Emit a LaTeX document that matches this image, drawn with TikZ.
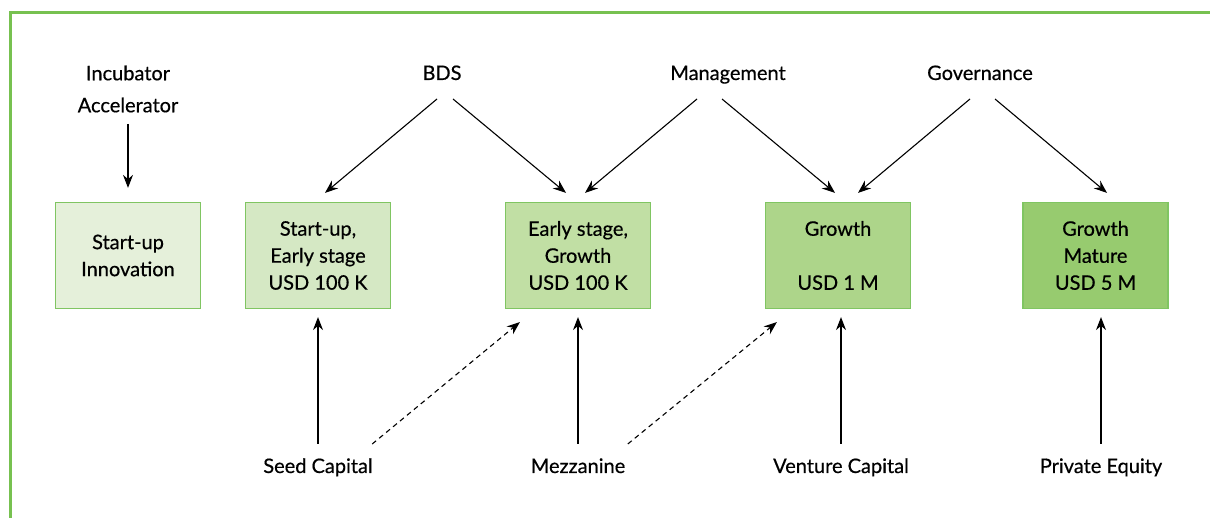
\documentclass[tikz,border=0pt]{standalone}
\usepackage{fontspec}
\setmainfont{Lato}[FakeBold=0.5]
\usetikzlibrary{arrows.meta,positioning}

\definecolor{frameGreen}{HTML}{77C150}
\definecolor{boxLine}{HTML}{80C562}
\definecolor{stageA}{HTML}{E5F0DA}
\definecolor{stageB}{HTML}{D5E8C4}
\definecolor{stageC}{HTML}{C1DFA4}
\definecolor{stageD}{HTML}{ADD58A}
\definecolor{stageE}{HTML}{97CB6F}

\tikzset{
  box/.style={draw=boxLine, line width=1.2pt, minimum width=145pt,
    minimum height=106pt, align=center, font=\fontsize{20}{27}\selectfont},
  lbl/.style={align=center, font=\fontsize{20}{27}\selectfont},
  arr/.style={-{Stealth[length=13pt,width=10pt]}, line width=1.1pt},
  dasharr/.style={arr, dash pattern=on 5pt off 4pt},
}

\begin{document}
\begin{tikzpicture}[x=1pt,y=1pt]
    \useasboundingbox (0,0) rectangle (1210,518);
    \draw[frameGreen, line width=3pt] (10.5,-10) |- (1220,505.5);

    % stages
    \node[box, fill=stageA] (b1) at (128,262.5)  {Start-up\\Innovation};
    \node[box, fill=stageB] (b2) at (318,262.5)  {Start-up,\\Early stage\\USD 100 K};
    \node[box, fill=stageC] (b3) at (578,262.5)  {Early stage,\\Growth\\USD 100 K};
    \node[box, fill=stageD] (b4) at (838,262.5)  {Growth\\[27pt]USD 1 M};
    \node[box, fill=stageE] (b5) at (1095.5,262.5) {Growth\\Mature\\USD 5 M};

    % support on top
    \node[lbl] (inc) at (128,429) {Incubator\\[5pt]Accelerator};
    \node[lbl, anchor=base] (bds) at (442,438) {BDS};
    \node[lbl, anchor=base] (mgt) at (728,438) {Management};
    \node[lbl, anchor=base] (gov) at (980,438) {Governance};

    % funding below
    \node[lbl, anchor=base] (seed) at (318,45)  {Seed Capital};
    \node[lbl, anchor=base] (mez)  at (578,45)  {Mezzanine};
    \node[lbl, anchor=base] (vc)   at (841,45)  {Venture Capital};
    \node[lbl, anchor=base] (pe)   at (1101,45) {Private Equity};

    \draw[arr] ([yshift=-8pt]inc.south) -- ([yshift=14pt]b1.north);
    \draw[arr] ([xshift=-5pt,yshift=-19pt]bds.base) -- ([xshift=7pt,yshift=9pt]b2.north);
    \draw[arr] ([xshift=11pt,yshift=-19pt]bds.base) -- ([xshift=-12pt,yshift=9pt]b3.north);
    \draw[arr] ([xshift=-31pt,yshift=-19pt]mgt.base) -- ([xshift=7pt,yshift=9pt]b3.north);
    \draw[arr] ([xshift=-6pt,yshift=-19pt]mgt.base) -- ([xshift=-3pt,yshift=9pt]b4.north);
    \draw[arr] ([xshift=-10pt,yshift=-19pt]gov.base) -- ([xshift=20pt,yshift=9pt]b4.north);
    \draw[arr] ([xshift=15pt,yshift=-19pt]gov.base) -- ([xshift=11.5pt,yshift=9pt]b5.north);

    \draw[arr] ([yshift=29pt]seed.base) -- ([yshift=-8pt]b2.south);
    \draw[arr] ([yshift=29pt]mez.base) -- ([yshift=-8pt]b3.south);
    \draw[arr] ([yshift=29pt]vc.base) -- ([xshift=3pt,yshift=-8pt]b4.south);
    \draw[arr, shorten >=8pt] ([yshift=29pt]pe.base) -- (pe.base |- b5.south);
    \draw[dasharr] ([xshift=-4pt,yshift=29pt]seed.base east) -- ([xshift=15pt,yshift=-13pt]b3.south west);
    \draw[dasharr] ([xshift=-1pt,yshift=29pt]mez.base east) -- ([xshift=12pt,yshift=-13pt]b4.south west);
\end{tikzpicture}
\end{document}
